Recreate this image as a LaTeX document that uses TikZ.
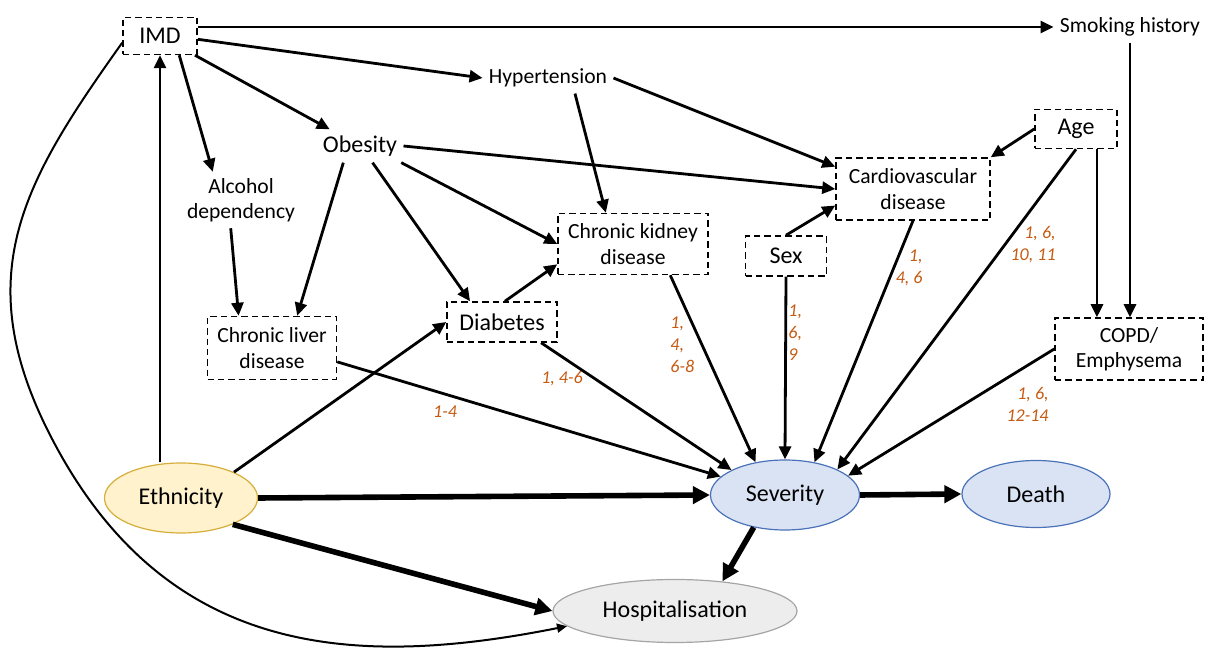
\documentclass[tikz,border=0pt]{standalone}
\usepackage{fontspec}
\setmainfont{Carlito}
\usetikzlibrary{arrows.meta,shapes.geometric}
\definecolor{refor}{HTML}{C55A11}
\definecolor{ethfill}{HTML}{FFF2CC}
\definecolor{ethdraw}{HTML}{D6AE3C}
\definecolor{sevfill}{HTML}{DAE3F3}
\definecolor{sevdraw}{HTML}{4A72B8}
\definecolor{hospfill}{HTML}{EDEDED}
\definecolor{hospdraw}{HTML}{A5A5A5}

\begin{document}
\begin{tikzpicture}[x=0.5pt, y=-0.5pt,
    dbox/.style={draw, dash pattern=on 3.2pt off 2pt, line width=0.75pt, align=center, inner sep=0pt},
    big/.style={font=\fontsize{12}{14.4}\selectfont},
    small/.style={font=\fontsize{10.8}{12.6}\selectfont, align=center},
    plain/.style={inner sep=3pt},
    ref/.style={font=\fontsize{9}{11}\selectfont\itshape, text=refor, inner sep=0pt},
    oval/.style={ellipse, draw, line width=0.6pt, inner sep=0pt, font=\fontsize{12}{14.4}\selectfont},
    arr/.style={-{Triangle[length=6.5pt,width=6pt]}, line width=1.4pt},
    bigarr/.style={-{Triangle[length=8.5pt,width=8.5pt]}, line width=2.8pt},
    thinarr/.style={-{Triangle[length=5pt,width=4.5pt]}, line width=1pt}]
    \useasboundingbox (0,0) rectangle (1206,651);

    \node[dbox, big, minimum width=37pt, minimum height=18.5pt] (imd) at (160,36) {IMD};
    \node[plain, small] (smoke) at (1130,27) {Smoking history};
    \node[plain, small] (hyp) at (548,78) {Hypertension};
    \node[plain, big] (obes) at (360,146) {Obesity};
    \node[plain, small] (alc) at (241,200) {Alcohol\\dependency};
    \node[dbox, big, minimum width=41pt, minimum height=19.5pt] (age) at (1076,129) {Age};
    \node[dbox, small, minimum width=77pt, minimum height=31pt] (cvd) at (913,189) {Cardiovascular\\disease};
    \node[dbox, small, minimum width=75pt, minimum height=30.5pt] (ckd) at (633,244) {Chronic kidney\\disease};
    \node[dbox, big, minimum width=40.5pt, minimum height=20pt] (sex) at (786,256) {Sex};
    \node[dbox, big, minimum width=55pt, minimum height=20pt] (diab) at (502,322) {Diabetes};
    \node[dbox, small, minimum width=64.5pt, minimum height=31.5pt] (cld) at (272,348) {Chronic liver\\disease};
    \node[dbox, small, minimum width=74pt, minimum height=31pt] (copd) at (1129,349) {COPD/\\Emphysema};

    \node[oval, fill=ethfill, draw=ethdraw, minimum width=76.5pt, minimum height=35pt] (eth) at (181,498) {Ethnicity};
    \node[oval, fill=sevfill, draw=sevdraw, minimum width=74.5pt, minimum height=35pt] (sev) at (785,495) {Severity};
    \node[oval, fill=sevfill, draw=sevdraw, minimum width=74pt, minimum height=33.5pt] (death) at (1036,494) {Death};
    \node[oval, fill=hospfill, draw=hospdraw, minimum width=122pt, minimum height=31.5pt] (hosp) at (675,611) {Hospitalisation};

    \node[ref] (r1) at (445,412) {1-4};
    \node[ref] (r2) at (562,379) {1, 4-6};
    \node[ref, anchor=west, align=left] (r3) at (670,345) {1,\\4,\\6-8};
    \node[ref, anchor=west, align=left] (r4) at (788,333) {1,\\6,\\9};
    \node[ref, anchor=east, align=right] (r5) at (923,268) {1,\\4, 6};
    \node[ref, anchor=east, align=right] (r6) at (1056,245) {1, 6,\\10, 11};
    \node[ref, anchor=east, align=right] (r7) at (1049,404) {1, 6,\\12-14};

    \coordinate (bend) at (58,450);

    \draw[arr] (imd.east |- smoke.west) -- (smoke.west);
    \draw[arr] (imd.-5) -- (hyp.west);
    \draw[arr] (imd) -- (obes);
    \draw[arr] (imd.-45) -- (alc.135);
    \draw[thinarr] (imd.190) .. controls (21.7,184) and (-35.8,279.5) .. (bend)
        .. controls (172.5,658) and (357.5,668) .. (hosp.188);
    \draw[arr] (imd.south |- eth.north) -- (imd.south);
    \draw[arr] (alc.250) -- (cld.136);
    \draw[arr] (obes.225) -- (cld.52);
    \draw[arr] (obes.-53) -- (diab.147);
    \draw[arr] (obes.-22) -- (ckd.west);
    \draw[arr] (obes.east) -- (cvd.west);
    \draw[arr] (hyp.-30) -- (ckd.131);
    \draw[arr] (hyp.east) -- (cvd.164);
    \draw[arr] (diab.82) -- (ckd.195);
    \draw[arr] (eth.26) -- (diab.west);
    \draw[arr] (cld.-12) -- (sev.164);
    \draw[arr] (diab.-28) -- (sev.155);
    \draw[arr] (ckd.-40) -- (sev.132);
    \draw[arr] (sex.south) -- (sev.north);
    \draw[arr] (sex.north) -- (cvd.192);
    \draw[arr] (cvd.south) -- (sev.48);
    \draw[arr] (age.west) -- (cvd.north east);
    \draw[arr] (age.south) -- (sev.26);
    \draw[arr] (age.-44) -- (age.-44 |- copd.north);
    \draw[arr] (smoke.south) -- (smoke.south |- copd.north);
    \draw[arr] (copd.west) -- (sev.17);
    \draw[bigarr] (eth.east) -- (sev.west);
    \draw[bigarr] (eth.-27) -- (hosp.west);
    \draw[bigarr] (sev.east) -- (death.west);
    \draw[bigarr] (sev.-134) -- (hosp.32);
\end{tikzpicture}
\end{document}
